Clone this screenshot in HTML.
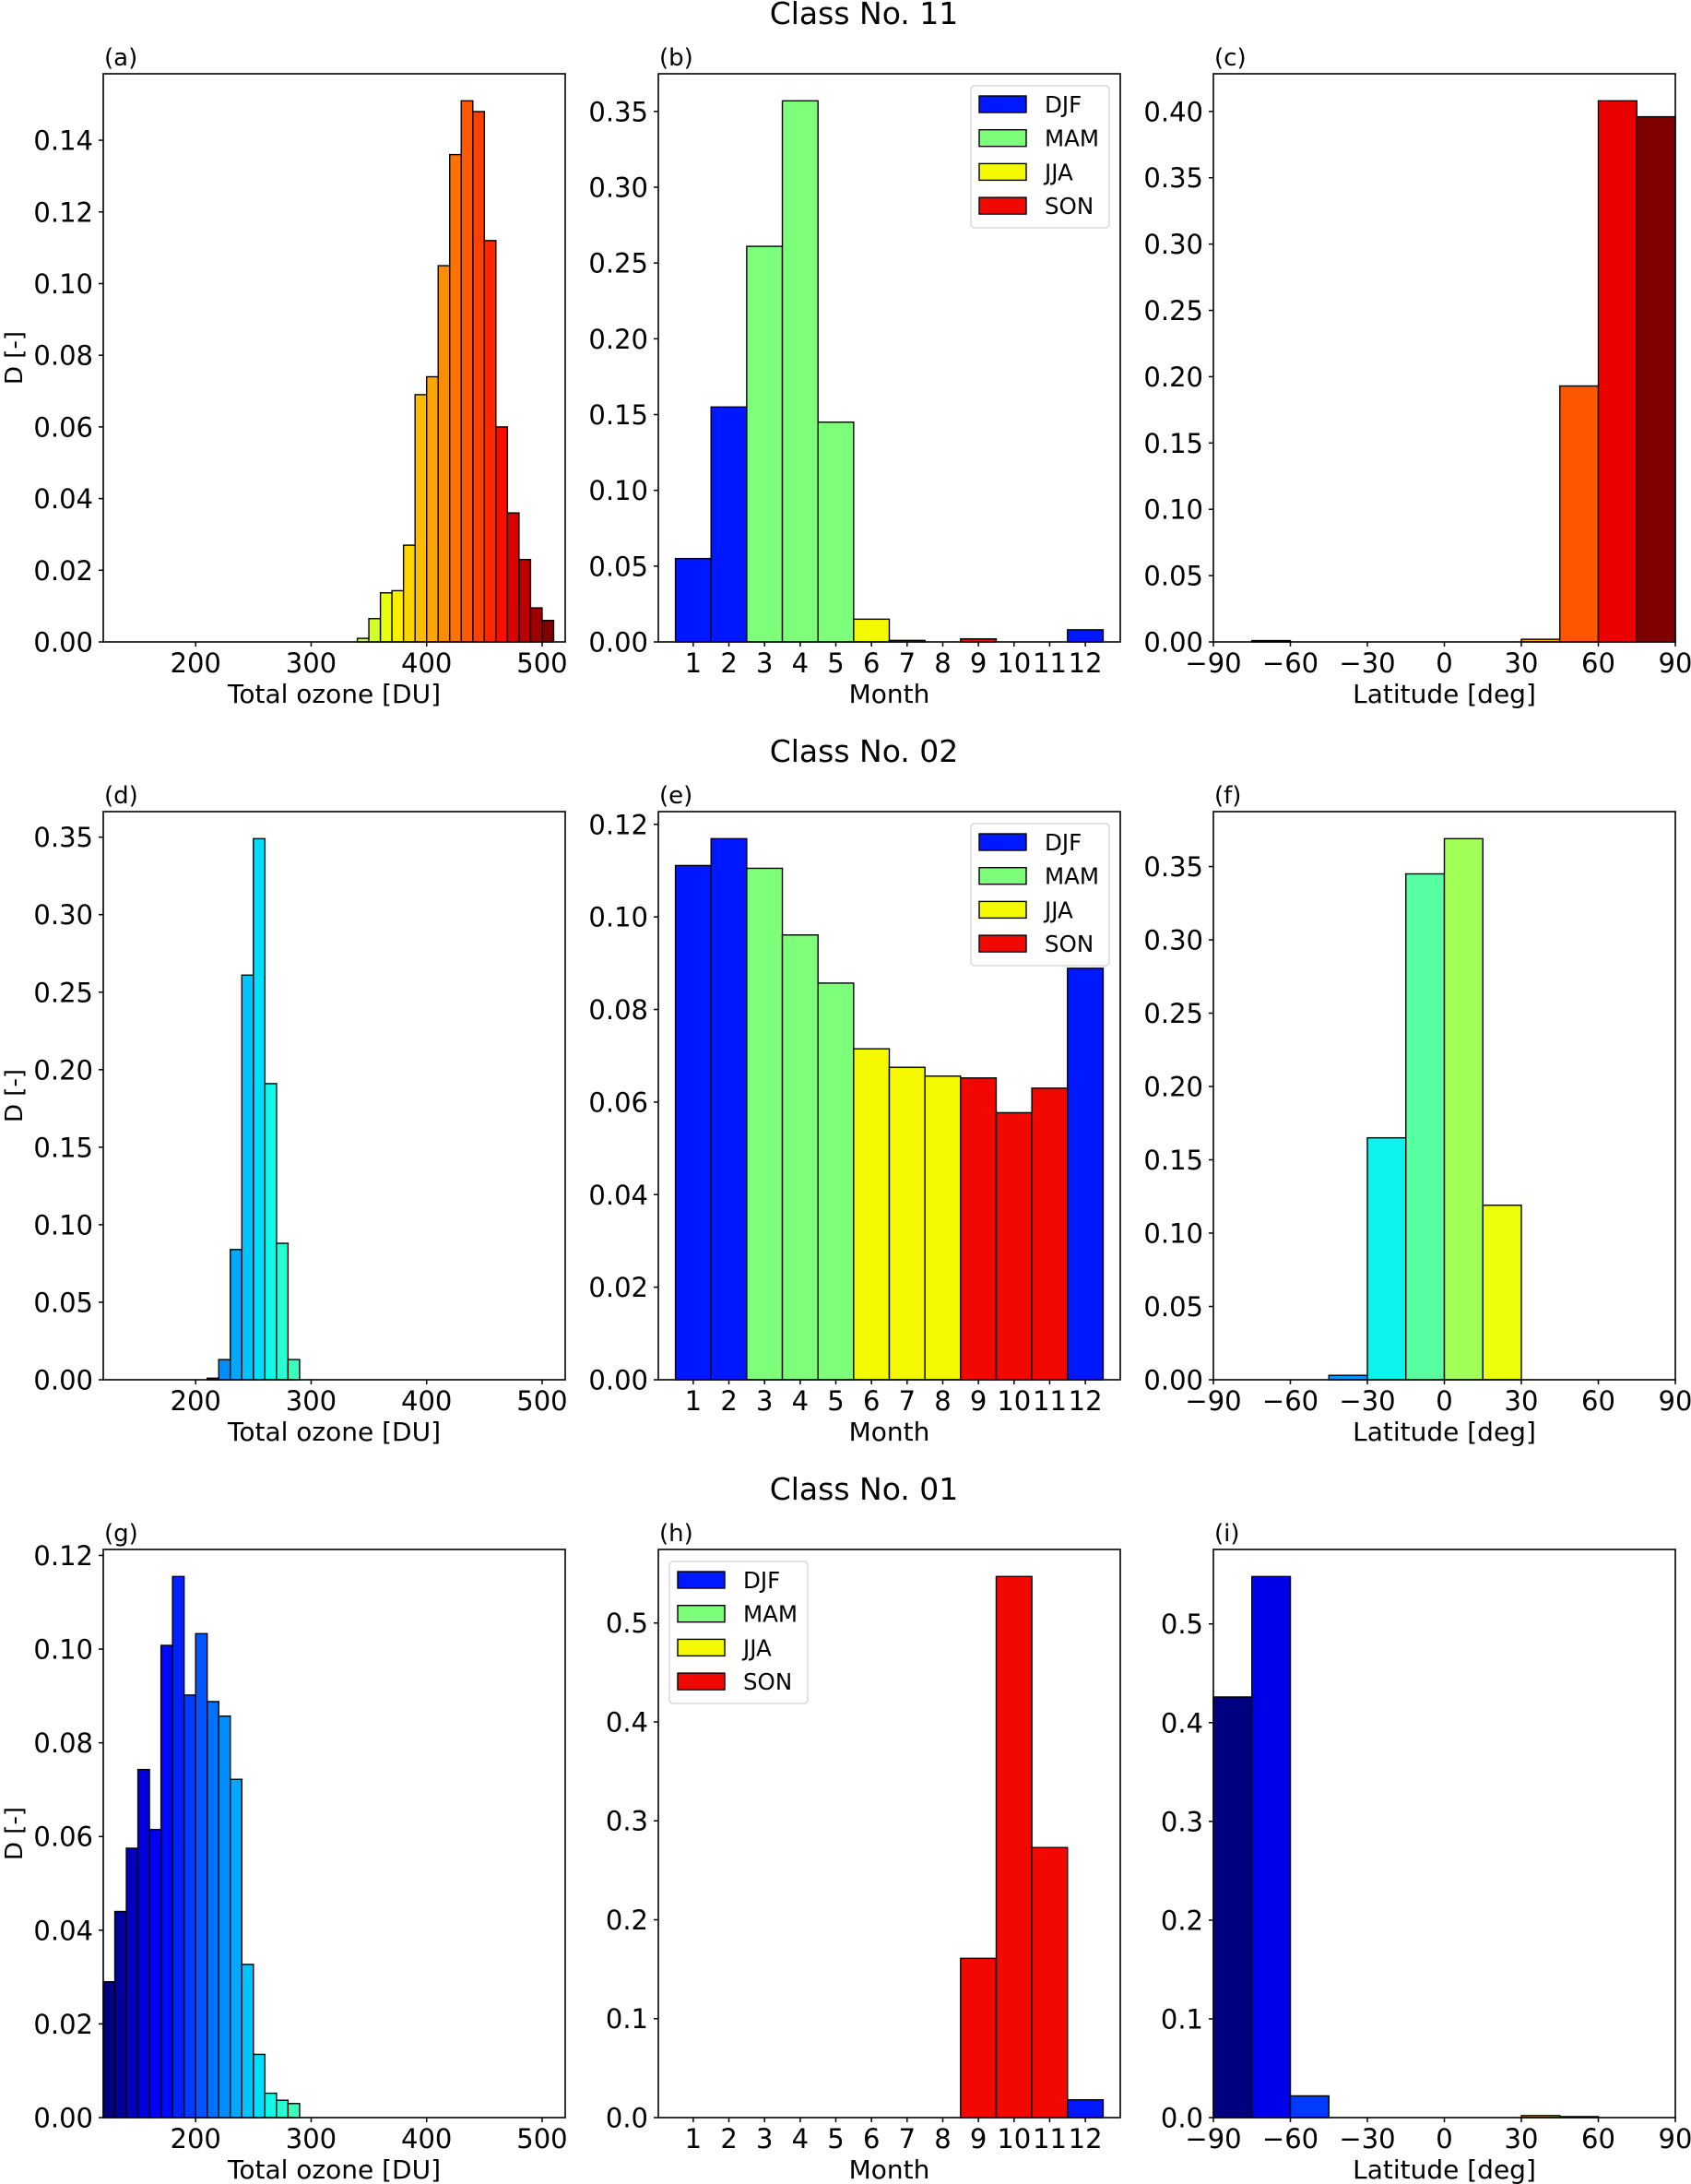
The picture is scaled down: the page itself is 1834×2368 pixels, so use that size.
<!DOCTYPE html>
<html><head><meta charset="utf-8"><title>Class histograms</title>
<style>
html,body{margin:0;padding:0;background:#fff;}
svg{display:block;font-family:"DejaVu Sans","Liberation Sans",sans-serif;}
</style></head>
<body>
<svg id="fig" width="1834" height="2368" viewBox="0 0 1834 2368" xmlns="http://www.w3.org/2000/svg"></svg>
<script>
// ---------- data ----------
const ozoneBinStart = 120;          // DU
const ozoneBinWidth = 10;           // DU
const ozoneTicks = [200, 300, 400, 500];
const monthTicks = ["1","2","3","4","5","6","7","8","9","10","11","12"];
const latTicks = [-90, -60, -30, 0, 30, 60, 90];
const seasonNames = ["DJF", "MAM", "JJA", "SON"];
const seasonColors = ["#0018ff", "#7dff7a", "#f4f800", "#f10800"];
const monthSeason = [0,0,1,1,1,2,2,2,3,3,3,0];

// Class 11
const ozone11 = [0,0,0,0,0,0,0,0,0,0, 0,0,0,0,0,0,0,0,0,0, 0,0,0.001,0.0065,0.0137,0.0143,0.027,0.069,0.074,0.105, 0.136,0.151,0.148,0.112,0.060,0.036,0.023,0.0095,0.006];
const month11 = [0.055,0.155,0.261,0.357,0.145,0.015,0.001,0,0.002,0,0,0.008];
const lat11 = [0,0.001,0,0,0,0,0,0,0.002,0.193,0.408,0.396];
// Class 02
const ozone02 = [0,0,0,0,0,0,0,0,0,0.001, 0.013,0.084,0.261,0.349,0.191,0.088,0.013,0,0,0, 0,0,0,0,0,0,0,0,0,0, 0,0,0,0,0,0,0,0,0];
const month02 = [0.1111,0.1169,0.1105,0.0961,0.0857,0.0715,0.0675,0.0656,0.0652,0.0577,0.063,0.0889];
const lat02 = [0,0,0,0.003,0.165,0.345,0.369,0.119,0,0,0,0];
// Class 01
const ozone01 = [0.029,0.044,0.0575,0.0743,0.0615,0.1008,0.1155,0.0902,0.1033,0.0888, 0.0857,0.0722,0.0327,0.0135,0.0052,0.0037,0.0030,0,0,0, 0,0,0,0,0,0,0,0,0,0, 0,0,0,0,0,0,0,0,0];
const month01 = [0,0,0,0,0,0,0,0,0.161,0.547,0.273,0.018];
const lat01 = [0.426,0.548,0.022,0,0,0,0,0,0.002,0.001,0,0];

const yTicks11 = {oz:[0,0.02,0.04,0.06,0.08,0.10,0.12,0.14], mo:[0,0.05,0.10,0.15,0.20,0.25,0.30,0.35], la:[0,0.05,0.10,0.15,0.20,0.25,0.30,0.35,0.40]};
const yTicks02 = {oz:[0,0.05,0.10,0.15,0.20,0.25,0.30,0.35], mo:[0,0.02,0.04,0.06,0.08,0.10,0.12], la:[0,0.05,0.10,0.15,0.20,0.25,0.30,0.35]};
const yTicks01 = {oz:[0,0.02,0.04,0.06,0.08,0.10,0.12], mo:[0,0.1,0.2,0.3,0.4,0.5], la:[0,0.1,0.2,0.3,0.4,0.5]};

// ---------- helpers ----------
const NS = "http://www.w3.org/2000/svg";
const svg = document.getElementById("fig");
function mk(tag, attrs, parent){
  const e = document.createElementNS(NS, tag);
  for (const k in attrs) e.setAttribute(k, attrs[k]);
  (parent||svg).appendChild(e);
  return e;
}
function seg(pts, v){
  for (let i=0;i<pts.length-1;i++){
    const [x0,y0]=pts[i],[x1,y1]=pts[i+1];
    if (v<=x1) return y0+(y1-y0)*(v-x0)/(x1-x0);
  }
  return pts[pts.length-1][1];
}
function jet(v){
  const r = seg([[0,0],[0.35,0],[0.66,1],[0.89,1],[1,0.5]], v);
  const g = seg([[0,0],[0.125,0],[0.375,1],[0.64,1],[0.91,0],[1,0]], v);
  const b = seg([[0,0.5],[0.11,1],[0.34,1],[0.65,0],[1,0]], v);
  const h = x=>Math.round(Math.max(0,Math.min(1,x))*255).toString(16).padStart(2,"0");
  return "#"+h(r)+h(g)+h(b);
}
function fmt(v, dec){ return v.toFixed(dec); }

const colX = [112, 714, 1316];
const W = 501, H = 616;
const rowY = [80, 880, 1680];
const FS = 29;

function frameAxes(g, x0, y0, yMax, yTicksArr, dec, label){
  const ys = v => y0 + H - v / yMax * H;
  yTicksArr.forEach(t=>{
    const tk = mk("line",{x1:x0-5,x2:x0,y1:ys(t),y2:ys(t),stroke:"#000","stroke-width":1.5},g);
    
    
    const tx = mk("text",{x:x0-11,y:ys(t)+10.5,"text-anchor":"end","font-size":FS},g);
    
    
    tx.textContent = fmt(t, dec);
  });
  const pl = mk("text",{x:x0+1,y:y0-9,"font-size":26},g);
  
  
  pl.textContent = label;
  return ys;
}
function box(g,x0,y0){
  const r = mk("rect",{x:x0,y:y0,width:W,height:H,fill:"none",stroke:"#000","stroke-width":1.6},g);
  
  
}
function xTick(g,x,y0,label){
  const tk = mk("line",{x1:x,x2:x,y1:y0+H,y2:y0+H+5,stroke:"#000","stroke-width":1.5},g);
  
  
  const tx = mk("text",{x:x,y:y0+H+33,"text-anchor":"middle","font-size":FS},g);
  
  
  tx.textContent = label;
}
function xTitle(g,x0,y0,t){
  const tx = mk("text",{x:x0+W/2,y:y0+H+66,"text-anchor":"middle","font-size":28},g);
  
  
  tx.textContent = t;
}
function bar(g,x1,x2,ys,v,color,name){
  const r = mk("rect",{x:x1,y:ys(v),width:x2-x1,height:Math.max(0,ys(0)-ys(v)),fill:color,stroke:"#000","stroke-width":1.4},g);
  
  
}

function ozonePanel(row, data, ticks, dec, label){
  const x0 = colX[0], y0 = rowY[row];
  const g = mk("g",{});
  
  
  const yMax = Math.max(...data)*1.05;
  const xs = v => x0 + (v-120)/400*W;
  const ys = frameAxes(g,x0,y0,yMax,ticks,dec,label);
  const n = data.length;
  data.forEach((v,i)=>{
    const a = ozoneBinStart + i*ozoneBinWidth;
    bar(g, xs(a), xs(a+ozoneBinWidth), ys, v, jet(i/(n-1)), 'ozone-bar');
  });
  ozoneTicks.forEach(t=>xTick(g,xs(t),y0,String(t)));
  xTitle(g,x0,y0,"Total ozone [DU]");
  box(g,x0,y0);
  const yl = mk("text",{transform:`translate(24,${y0+H/2}) rotate(-90)`,"text-anchor":"middle","font-size":26},g);
  
  
  yl.textContent = "D [-]";
}
function monthPanel(row, data, ticks, dec, label, legendPos){
  const x0 = colX[1], y0 = rowY[row];
  const g = mk("g",{});
  
  
  const yMax = Math.max(...data)*1.05;
  const xs = v => x0 + (v-0.02)/12.96*W;
  const ys = frameAxes(g,x0,y0,yMax,ticks,dec,label);
  data.forEach((v,i)=>{
    const m = i+1;
    bar(g, xs(m-0.5), xs(m+0.5), ys, v, seasonColors[monthSeason[i]], 'month-bar');
  });
  monthTicks.forEach((t,i)=>xTick(g,xs(i+1),y0,t));
  xTitle(g,x0,y0,"Month");
  box(g,x0,y0);
  const lx = legendPos==="right" ? x0+W-162 : x0+12;
  const ly = y0+13;
  const lg = mk("g",{},g);
  
  
  const lb = mk("rect",{x:lx,y:ly,width:150,height:154,rx:4,fill:"#fff",stroke:"#d8d8d8","stroke-width":1.5},lg);
  
  
  seasonNames.forEach((s,i)=>{
    const cy = ly+20+i*36.7;
    const p = mk("rect",{x:lx+9,y:cy-9,width:51,height:18,fill:seasonColors[i],stroke:"#000","stroke-width":1.4},lg);
    
    
    const t = mk("text",{x:lx+80,y:cy+9,"font-size":24.5},lg);
    
    
    t.textContent = s;
  });
}
function latPanel(row, data, ticks, dec, label){
  const x0 = colX[2], y0 = rowY[row];
  const g = mk("g",{});
  
  
  const yMax = Math.max(...data)*1.05;
  const xs = v => x0 + (v+90)/180*W;
  const ys = frameAxes(g,x0,y0,yMax,ticks,dec,label);
  const n = data.length;
  data.forEach((v,i)=>{
    const a = -90 + i*15;
    bar(g, xs(a), xs(a+15), ys, v, jet(i/(n-1)), 'latitude-bar');
  });
  latTicks.forEach(t=>xTick(g,xs(t),y0,(t<0?"\u2212":"")+Math.abs(t)));
  xTitle(g,x0,y0,"Latitude [deg]");
  box(g,x0,y0);
}
function title(row, t){
  const tx = mk("text",{x:937,y:rowY[row]-54,"text-anchor":"middle","font-size":33});
  
  
  tx.textContent = t;
}

title(0,"Class No. 11");
ozonePanel(0, ozone11, yTicks11.oz, 2, "(a)");
monthPanel(0, month11, yTicks11.mo, 2, "(b)", "right");
latPanel(0, lat11, yTicks11.la, 2, "(c)");

title(1,"Class No. 02");
ozonePanel(1, ozone02, yTicks02.oz, 2, "(d)");
monthPanel(1, month02, yTicks02.mo, 2, "(e)", "right");
latPanel(1, lat02, yTicks02.la, 2, "(f)");

title(2,"Class No. 01");
ozonePanel(2, ozone01, yTicks01.oz, 2, "(g)");
monthPanel(2, month01, yTicks01.mo, 1, "(h)", "left");
latPanel(2, lat01, yTicks01.la, 1, "(i)");
</script>
</body></html>
